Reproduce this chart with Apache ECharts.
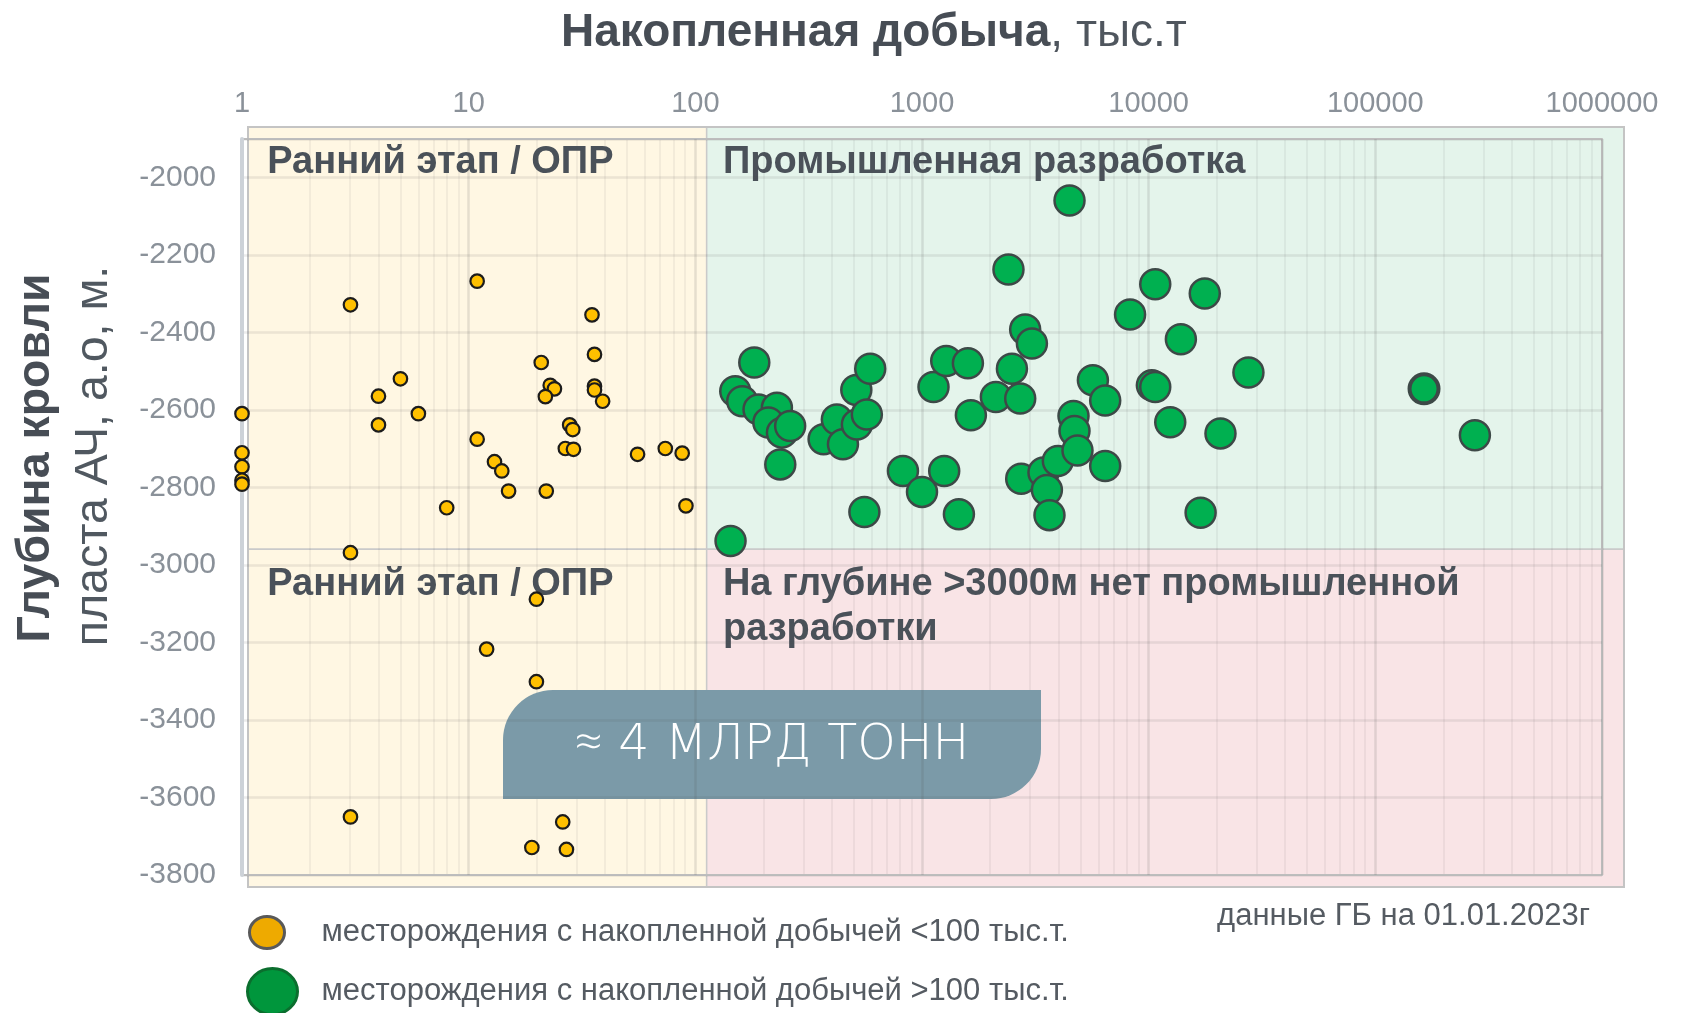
<!DOCTYPE html>
<html>
<head>
<meta charset="utf-8">
<script src="https://cdn.jsdelivr.net/npm/echarts@6.0.0/dist/echarts.min.js"></script>
<style>
html,body{margin:0;padding:0;background:#ffffff;}
#chart{width:1685px;height:1013px;}
</style>
</head>
<body>
<div id="chart"></div>
<script>
// ---------- DATA ----------
const xTickLabels = ['1', '10', '100', '1000', '10000', '100000', '1000000'];
const yTickValues = [-3800, -3600, -3400, -3200, -3000, -2800, -2600, -2400, -2200, -2000];

// fields with cumulative production < 100 thousand t  [cum. production, depth]
const smallFields = [
  [1, -2609], [1, -2710], [1, -2746], [1, -2781], [1, -2791],
  [3.01, -2328], [10.9, -2267], [4.0, -2564], [5.0, -2519], [4.0, -2638],
  [6.0, -2609], [10.9, -2675], [13.0, -2733], [14.0, -2757], [15.0, -2809],
  [8.0, -2852], [22.0, -2809], [20.9, -2477], [22.9, -2536], [23.9, -2545],
  [21.8, -2565], [35.0, -2354], [35.9, -2456], [35.9, -2538], [35.9, -2548],
  [39.0, -2577], [27.9, -2638], [28.8, -2650], [26.7, -2699], [29.0, -2701],
  [55.6, -2714], [73.7, -2699], [87.5, -2711], [90.9, -2847],
  [3.01, -2968], [19.9, -3088], [12.0, -3217], [19.9, -3301],
  [3.01, -3650], [26.0, -3663], [19.0, -3729], [27.0, -3734]
];

// fields with cumulative production > 100 thousand t
const largeFields = [
  [4475, -2059], [2407, -2237], [10690, -2275], [8280, -2353], [13870, -2417],
  [2852, -2392], [3054, -2428], [182, -2477], [150, -2551], [161, -2577],
  [190, -2598], [229, -2594], [210, -2632], [241, -2658], [262, -2641],
  [237, -2740], [368, -2675], [421, -2624], [448, -2688], [516, -2637],
  [513, -2548], [591, -2493], [571, -2611], [557, -2863], [143, -2938],
  [824, -2757], [1000, -2811], [1253, -2757], [1455, -2869], [1124, -2540],
  [1279, -2473], [1594, -2479], [1643, -2613], [2118, -2566], [2493, -2493],
  [2712, -2570], [2739, -2777], [3435, -2761], [3975, -2731], [3556, -2806],
  [3651, -2871], [4660, -2615], [4707, -2654], [4853, -2704], [5675, -2523],
  [6430, -2575], [6430, -2744], [10330, -2536], [10690, -2540], [12450, -2631],
  [17680, -2299], [27550, -2503], [20740, -2660], [16950, -2865], [274900, -2665]
];
const largeFieldsHighlighted = [[164000, -2545]];

// thresholds of the background zones
const productionThreshold = 100;
const depthThreshold = -3000;

const zoneLabels = {
  early: 'Ранний этап / ОПР',
  industrial: 'Промышленная разработка',
  deep: 'На глубине >3000м нет промышленной\nразработки'
};
const seriesNames = ['месторождения с накопленной добычей <100 тыс.т.', 'месторождения с накопленной добычей >100 тыс.т.'];

// ---------- CHART ----------
const FONT = '"Liberation Sans", Arial, sans-serif';
const chart = echarts.init(document.getElementById('chart'), null, {renderer: 'canvas'});

const xMin = 1, xMax = 1000000;
const yMin = yTickValues[0], yMaxFrame = yTickValues[yTickValues.length - 1];

// minor log grid lines (2..9 per decade)
const minorLines = [];
for (let d = 0; d < 6; d++) {
  for (let m = 2; m <= 9; m++) minorLines.push({xAxis: m * Math.pow(10, d)});
}

function zoneLabel(text, dx) {
  return {
    show: true, position: [dx, 14], formatter: text, fontFamily: FONT, fontSize: 38,
    fontWeight: 'bold', color: '#4a5159', lineHeight: 45
  };
}
const zoneBorder = {borderColor: '#cacaca', borderWidth: 1.5};

const ellipse = 'path://M0,50A50,50,0,1,1,100,50A50,50,0,1,1,0,50Z';

chart.setOption({
  animation: false,
  backgroundColor: '#ffffff',
  title: [
    {
      text: '{b|Накопленная добыча}{n|, тыс.т}',
      left: 561, top: 10, padding: 0,
      textStyle: {
        rich: {
          b: {fontFamily: FONT, fontSize: 46, fontWeight: 'bold', color: '#474d55'},
          n: {fontFamily: FONT, fontSize: 46, fontWeight: 'normal', color: '#4f565e'}
        }
      }
    },
    {
      text: 'данные ГБ на 01.01.2023г',
      right: 95, top: 901, padding: 0,
      textStyle: {fontFamily: FONT, fontSize: 31, fontWeight: 'normal', color: '#555b62'}
    }
  ],
  legend: [
    {
      data: [{name: seriesNames[0], icon: ellipse,
        itemStyle: {color: '#EEAA00', borderColor: '#595959', borderWidth: 3}}],
      left: 248, top: 915, padding: 0, itemWidth: 35, itemHeight: 32,
      symbolKeepAspect: false, selectedMode: false,
      textStyle: {fontFamily: FONT, fontSize: 31, color: '#555b62', padding: [4, 0, 0, 32]}
    },
    {
      data: [{name: seriesNames[1], icon: ellipse,
        itemStyle: {color: '#00963C', borderColor: '#0b6e2e', borderWidth: 3}}],
      left: 246, top: 967, padding: 0, itemWidth: 50, itemHeight: 46,
      symbolKeepAspect: false, selectedMode: false,
      textStyle: {fontFamily: FONT, fontSize: 31, color: '#555b62', padding: [10, 0, 0, 19]}
    }
  ],
  grid: [
    {left: 242, right: 83, top: 139, bottom: 138, show: true,
      borderColor: '#c8c8c8', borderWidth: 2, backgroundColor: 'transparent'},
    {left: 248, right: 61, top: 127, bottom: 126, show: true,
      borderColor: '#c4c4c4', borderWidth: 2, backgroundColor: 'transparent'}
  ],
  xAxis: [
    {
      type: 'log', logBase: 10, min: xMin, max: xMax, position: 'top', gridIndex: 0,
      axisLine: {show: false}, axisTick: {show: false},
      axisLabel: {
        fontFamily: FONT, fontSize: 29, color: '#8a9199', margin: 21,
        formatter: v => xTickLabels[Math.round(Math.log10(v))]
      },
      splitLine: {show: true, lineStyle: {color: 'rgba(80,80,80,0.15)', width: 2.5}}
    },
    {type: 'log', logBase: 10, min: xMin, max: xMax, gridIndex: 1, show: false,
      splitLine: {show: false}}
  ],
  yAxis: [
    {
      type: 'value', min: yMin, max: -1900, interval: 200, gridIndex: 0,
      axisLine: {show: true, onZero: false, lineStyle: {color: '#cdd2d8', width: 4}},
      axisTick: {show: false},
      axisLabel: {fontFamily: FONT, fontSize: 30, color: '#8a9199', margin: 26,
        showMaxLabel: false, formatter: v => String(v)},
      splitLine: {show: true, lineStyle: {color: 'rgba(80,80,80,0.11)', width: 2.5}}
    },
    {type: 'value', min: yMin, max: yMaxFrame, gridIndex: 1, show: false,
      splitLine: {show: false}}
  ],
  series: [
    {
      // background zones
      type: 'scatter', xAxisIndex: 1, yAxisIndex: 1, data: [], silent: true,
      markArea: {
        z: -5, silent: true,
        data: [
          [{xAxis: xMin, yAxis: depthThreshold, itemStyle: Object.assign({color: '#FFF7E3'}, zoneBorder),
            label: zoneLabel(zoneLabels.early, 20)},
           {xAxis: productionThreshold, yAxis: yMaxFrame}],
          [{xAxis: xMin, yAxis: yMin, itemStyle: Object.assign({color: '#FFF7E3'}, zoneBorder),
            label: zoneLabel(zoneLabels.early, 20)},
           {xAxis: productionThreshold, yAxis: depthThreshold}],
          [{xAxis: productionThreshold, yAxis: depthThreshold, itemStyle: Object.assign({color: '#E4F4EB'}, zoneBorder),
            label: zoneLabel(zoneLabels.industrial, 17)},
           {xAxis: xMax, yAxis: yMaxFrame}],
          [{xAxis: productionThreshold, yAxis: yMin, itemStyle: Object.assign({color: '#F9E4E6'}, zoneBorder),
            label: zoneLabel(zoneLabels.deep, 17)},
           {xAxis: xMax, yAxis: depthThreshold}]
        ]
      }
    },
    {
      // minor log grid lines
      type: 'scatter', xAxisIndex: 0, yAxisIndex: 0, data: [], silent: true,
      markLine: {
        z: -1, silent: true, symbol: ['none', 'none'], label: {show: false},
        lineStyle: {color: 'rgba(80,80,80,0.07)', width: 2, type: 'solid'},
        emphasis: {disabled: true},
        data: minorLines
      }
    },
    {
      name: seriesNames[0], type: 'scatter', xAxisIndex: 0, yAxisIndex: 0,
      data: smallFields, clip: false, symbol: 'circle', symbolSize: 13.5,
      itemStyle: {color: '#FFC000', borderColor: '#1c1c1c', borderWidth: 2.2, opacity: 1},
      z: 3
    },
    {
      name: seriesNames[1], type: 'scatter', xAxisIndex: 0, yAxisIndex: 0,
      data: largeFields, clip: false, symbol: 'circle', symbolSize: 30,
      itemStyle: {color: '#00B050', borderColor: '#3d4947', borderWidth: 2.5, opacity: 1},
      z: 4
    },
    {
      name: 'highlighted', type: 'scatter', xAxisIndex: 0, yAxisIndex: 0,
      data: largeFieldsHighlighted, clip: false, symbol: 'circle', symbolSize: 29,
      itemStyle: {color: '#00B050', borderColor: '#3d4947', borderWidth: 4, opacity: 1},
      z: 4
    }
  ],
  graphic: [
    {
      type: 'group', z: 100,
      children: [
        {type: 'rect', x: 503, y: 690, shape: {width: 538, height: 109, r: [50, 0, 50, 0]},
          style: {fill: '#7B9AA8'}},
        {type: 'text', x: 772, y: 746,
          style: {text: '≈ 4 МЛРД ТОНН', fill: '#ffffff', fontFamily: '"DejaVu Sans", "Open Sans", sans-serif',
            fontSize: 49, fontWeight: 200, align: 'center', verticalAlign: 'middle'}}
      ]
    },
    {type: 'text', x: 36, y: 458, rotation: Math.PI / 2, z: 100,
      style: {text: 'Глубина кровли', fill: '#474d55', fontFamily: FONT, fontSize: 46.5,
        fontWeight: 'bold', align: 'center', verticalAlign: 'middle'}},
    {type: 'text', x: 94, y: 456, rotation: Math.PI / 2, z: 100,
      style: {text: 'пласта АЧ, а.о, м.', fill: '#505860', fontFamily: FONT, fontSize: 46.5,
        fontWeight: 'normal', align: 'center', verticalAlign: 'middle'}}
  ]
});
</script>
</body>
</html>
